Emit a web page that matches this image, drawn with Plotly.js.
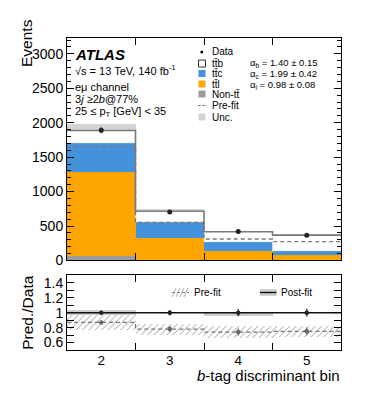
<!DOCTYPE html>
<html>
<head>
<meta charset="utf-8">
<script src="https://cdn.plot.ly/plotly-3.0.1.min.js"></script>
<style>html,body{margin:0;padding:0;background:#fff;}#chart{width:374px;height:397px;}</style>
</head>
<body>
<div id="chart"></div>
<script>
// ---- data ----
const bins = [2, 3, 4, 5];
const tickLabels = ['2', '3', '4', '5'];
const nonTT = [60, 12, 10, 8];
const ttl = [1223, 317, 127, 72];
const ttc = [425, 232, 135, 62];
const ttb = [178, 154, 144, 226];
const preFit = [1650, 552, 311, 274];
const dataVals = [1890, 705, 420, 365];
const dataErr = [43, 27, 20, 19];
const uncHalf = [90, 25, 15, 10];
const ratioPost = [1.0, 1.0, 1.0, 1.0];
const ratioPre = [0.87, 0.78, 0.74, 0.75];
const ratioErr = [0.023, 0.038, 0.048, 0.052];
const preBandHalf = [0.10, 0.075, 0.08, 0.075];
const postBandLo = [0.965, 0.99, 0.955, 0.99];
const postBandHi = [1.04, 1.01, 1.01, 1.01];

// ---- helpers ----
const add = (a, b) => a.map((v, i) => v + b[i]);
const base1 = nonTT;
const base2 = add(nonTT, ttl);
const base3 = add(base2, ttc);
const total = add(base3, ttb);
const edges = bins.map(b => b - 0.5).concat([bins[bins.length - 1] + 0.5]);
const stepY = v => v.concat([v[v.length - 1]]);

const L = 67, R = 341, T = 38, B = 350;
const px = x => (x - L) / (R - L);
const py = y => (B - y) / (B - T);

const cBlue = '#4292dc', cOrange = '#FFA500', cNon = '#9b9b9f', cUnc = '#d4d4d4';
const FONT = 'Liberation Sans, Arial, Helvetica, sans-serif';

const traces = [
  {type: 'bar', x: bins, base: total.map((t, i) => t - uncHalf[i]), y: uncHalf.map(u => 2 * u), width: 1,
   marker: {color: cUnc, line: {width: 0}}, xaxis: 'x', yaxis: 'y', hoverinfo: 'skip'},
  {type: 'bar', x: bins, base: bins.map(() => 0), y: nonTT, width: 1, marker: {color: cNon, line: {width: 0}}, xaxis: 'x', yaxis: 'y', name: 'Non-tt'},
  {type: 'bar', x: bins, base: base1, y: ttl, width: 1, marker: {color: cOrange, line: {width: 0}}, xaxis: 'x', yaxis: 'y', name: 'ttl'},
  {type: 'bar', x: bins, base: base2, y: ttc, width: 1, marker: {color: cBlue, line: {width: 0}}, xaxis: 'x', yaxis: 'y', name: 'ttc'},
  {type: 'bar', x: bins, base: base3, y: ttb, width: 1, marker: {color: '#ffffff', line: {width: 0.6, color: '#e8e8e8'}}, xaxis: 'x', yaxis: 'y', name: 'ttb'},
  {type: 'scatter', mode: 'lines', x: edges, y: stepY(total), line: {shape: 'hv', color: '#7a7a7a', width: 1.6}, xaxis: 'x', yaxis: 'y'},
  {type: 'scatter', mode: 'lines', x: edges, y: stepY(preFit), line: {shape: 'hv', color: '#7a7a7a', width: 1.4, dash: '4px,3px'}, xaxis: 'x', yaxis: 'y'},
  {type: 'scatter', mode: 'markers', x: bins, y: dataVals, error_y: {type: 'data', array: dataErr, visible: true, color: '#222', thickness: 1.3, width: 0},
   marker: {color: '#222', size: 5}, xaxis: 'x', yaxis: 'y', name: 'Data'},
  // ratio panel
  {type: 'bar', x: bins, base: postBandLo, y: postBandHi.map((h, i) => h - postBandLo[i]), width: 1,
   marker: {color: '#cfcfcf', line: {width: 0}}, xaxis: 'x2', yaxis: 'y2', hoverinfo: 'skip'},
  {type: 'bar', x: bins, base: ratioPre.map((r, i) => r - preBandHalf[i]), y: preBandHalf.map(h => 2 * h), width: 1,
   marker: {color: 'rgba(255,255,255,0)', line: {width: 0}, pattern: {shape: '/', fgcolor: '#8a8a8a', bgcolor: 'rgba(255,255,255,0)', size: 4.5, solidity: 0.18}},
   xaxis: 'x2', yaxis: 'y2', hoverinfo: 'skip'},
  {type: 'scatter', mode: 'lines', x: edges, y: stepY(ratioPre), line: {shape: 'hv', color: '#777', width: 1.2, dash: '4px,3px'}, xaxis: 'x2', yaxis: 'y2'},
  {type: 'scatter', mode: 'lines', x: edges, y: stepY(ratioPost), line: {shape: 'hv', color: '#111', width: 1.5}, xaxis: 'x2', yaxis: 'y2'},
  {type: 'scatter', mode: 'markers', x: bins, y: ratioPre, error_y: {type: 'data', array: ratioErr, visible: true, color: '#666', thickness: 1.2, width: 0},
   marker: {color: '#666', size: 4.5}, xaxis: 'x2', yaxis: 'y2'},
  {type: 'scatter', mode: 'markers', x: bins, y: ratioPost, error_y: {type: 'data', array: ratioErr, visible: true, color: '#222', thickness: 1.2, width: 0},
   marker: {color: '#222', size: 4.5}, xaxis: 'x2', yaxis: 'y2'},
  // label-only axis for ratio x labels
  {type: 'scatter', mode: 'markers', x: [bins[0]], y: [1], marker: {opacity: 0}, xaxis: 'x3', yaxis: 'y2', hoverinfo: 'skip'}
];

const axFont = {family: FONT, size: 14, color: '#000'};
const xRange = [edges[0], edges[edges.length - 1]];
const layout = {
  width: 374, height: 397,
  margin: {l: L, r: 374 - R, t: T, b: 397 - B},
  paper_bgcolor: '#fff', plot_bgcolor: '#fff',
  showlegend: false, barmode: 'overlay', bargap: 0,
  font: {family: FONT, color: '#000'},
  xaxis: {domain: [0, 1], anchor: 'y', range: xRange, tickmode: 'array', tickvals: [2.5, 3.5, 4.5], showticklabels: false,
          ticks: 'inside', ticklen: 7, tickcolor: '#000', showline: true, linecolor: '#000', linewidth: 1, mirror: 'ticks', showgrid: false, zeroline: false},
  yaxis: {domain: [0.287, 1], anchor: 'x', range: [0, 3230], tickmode: 'array', tickvals: [0, 500, 1000, 1500, 2000, 2500, 3000],
          ticks: 'inside', ticklen: 7, tickcolor: '#000', tickfont: axFont, showline: true, linecolor: '#000', linewidth: 1, mirror: 'allticks',
          minor: {dtick: 100, ticks: 'inside', ticklen: 4, tickcolor: '#000'}, showgrid: false, zeroline: false},
  xaxis2: {domain: [0, 1], anchor: 'y2', range: xRange, tickmode: 'array', tickvals: [2.5, 3.5, 4.5], showticklabels: false,
          ticks: 'inside', ticklen: 7, tickcolor: '#000', showline: true, linecolor: '#000', linewidth: 1, mirror: 'ticks', showgrid: false, zeroline: false},
  xaxis3: {overlaying: 'x2', anchor: 'y2', side: 'bottom', range: xRange, tickmode: 'array', tickvals: bins, ticktext: tickLabels,
          ticks: '', tickfont: {family: FONT, size: 13.5, color: '#000'}, showline: false, showgrid: false, zeroline: false},
  yaxis2: {domain: [0, 0.239], anchor: 'x2', range: [0.5, 1.5], tickmode: 'array', tickvals: [0.6, 0.8, 1, 1.2, 1.4], ticktext: ['0.6', '0.8', '1', '1.2', '1.4'],
          ticks: 'inside', ticklen: 7, tickcolor: '#000', tickfont: axFont, showline: true, linecolor: '#000', linewidth: 1, mirror: 'allticks',
          minor: {dtick: 0.1, tick0: 0.5, ticks: 'inside', ticklen: 4, tickcolor: '#000'}, showgrid: false, zeroline: false,
          title: {text: 'Pred./Data', font: {family: FONT, size: 15.5, color: '#000'}, standoff: 6}},
  annotations: [],
  shapes: []
};

const ann = (text, x, y, size, extra) => layout.annotations.push(Object.assign({
  text, x: px(x), y: py(y), xref: 'paper', yref: 'paper', xanchor: 'left', yanchor: 'middle', showarrow: false,
  font: {family: FONT, size, color: '#000'}}, extra || {}));

// axis titles placed like the original
ann('Events', 26, 17, 15.5, {textangle: -90, xanchor: 'center', yanchor: 'top'});
ann('<i>b</i>-tag discriminant bin', 342, 375.5, 15, {xanchor: 'right'});

// header
ann('<b><i>ATLAS</i></b>', 73, 54, 15);
ann('√s = 13 TeV, 140 fb<sup>-1</sup>', 73, 70.5, 11);
ann('eμ channel', 73, 86.5, 11);
ann('3<i>j</i> ≥2<i>b</i>@77%', 73, 98.5, 11);
ann('25 ≤ p<sub>T</sub> [GeV] &lt; 35', 73, 111.5, 11);

// legend (top)
const legText = ['Data', 'tt\u0304b', 'tt\u0304c', 'tt\u0304l', 'Non-tt\u0304', 'Pre-fit', 'Unc.'];
const legY = [52, 63.5, 73.5, 84, 94, 105.5, 117];
legText.forEach((t, i) => ann(t, 209.5, legY[i], 10));
const box = (y, fill, line) => layout.shapes.push({type: 'rect', xref: 'paper', yref: 'paper',
  x0: px(198.5), x1: px(205.5), y0: py(y - 3.5), y1: py(y + 3.5), fillcolor: fill, line: line || {width: 0}});
layout.shapes.push({type: 'circle', xref: 'paper', yref: 'paper', x0: px(200.3), x1: px(203.3), y0: py(50.5), y1: py(53.5), fillcolor: '#000', line: {width: 0}});
box(legY[1], '#fff', {width: 1, color: '#333'});
box(legY[2], cBlue);
box(legY[3], cOrange);
box(legY[4], cNon);
layout.shapes.push({type: 'line', xref: 'paper', yref: 'paper', x0: px(198.5), x1: px(207), y0: py(legY[5]), y1: py(legY[5]), line: {color: '#555', width: 1.2, dash: '2px,2px'}});
box(legY[6], cUnc);

// alpha values
ann('α<sub>b</sub> = 1.40 ± 0.15', 248, 63, 9.5);
ann('α<sub>c</sub> = 1.99 ± 0.42', 248, 73.5, 9.5);
ann('α<sub>l</sub> = 0.98 ± 0.08', 248, 84.5, 9.5);

// ratio legend
for (let k = 0; k < 4; k++) {
  layout.shapes.push({type: 'line', xref: 'paper', yref: 'paper', x0: px(172 + 4 * k), x1: px(176 + 4 * k), y0: py(297), y1: py(288), line: {color: '#999', width: 0.8}});
}
layout.shapes.push({type: 'line', xref: 'paper', yref: 'paper', x0: px(172), x1: px(189), y0: py(292.5), y1: py(292.5), line: {color: '#888', width: 1, dash: '3px,2px'}});
ann('Pre-fit', 191.5, 292.5, 10);
layout.shapes.push({type: 'rect', xref: 'paper', yref: 'paper', x0: px(260), x1: px(276.5), y0: py(296), y1: py(289), fillcolor: '#cfcfcf', line: {width: 0}});
layout.shapes.push({type: 'line', xref: 'paper', yref: 'paper', x0: px(260), x1: px(276.5), y0: py(292.5), y1: py(292.5), line: {color: '#111', width: 1.5}});
ann('Post-fit', 279, 292.5, 10);

Plotly.newPlot('chart', traces, layout, {displayModeBar: false, staticPlot: true});
</script>
</body>
</html>
